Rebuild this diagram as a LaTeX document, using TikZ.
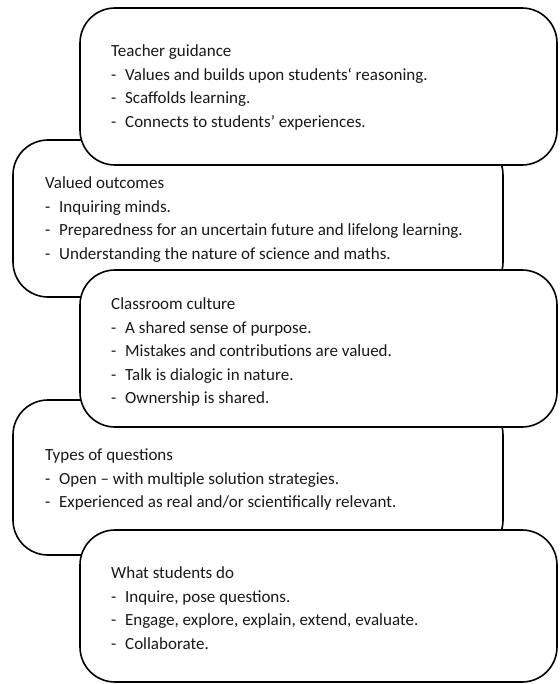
\documentclass[tikz,border=0pt]{standalone}
\usepackage{fontspec}
\setmainfont{Carlito}
\begin{document}
\begin{tikzpicture}[x=1pt,y=-1pt,
  box/.style={draw=black, line width=1.6pt, fill=white, rounded corners=35pt, inner sep=0pt},
  txt/.style={anchor=north west, inner sep=0pt, align=left, text=black!90,
    font=\fontsize{17}{23.6}\selectfont}]
\newcommand{\itm}[1]{\makebox[14pt][l]{-}#1}
\useasboundingbox (0,0) rectangle (559,684);
% boxes behind
\node[box, minimum width=490pt, minimum height=157pt] (b2) at (258,218.5) {};
\node[box, minimum width=490pt, minimum height=155pt] (b4) at (258,477.5) {};
% boxes in front
\node[box, minimum width=477pt, minimum height=157pt] (b1) at (318.5,86.5) {};
\node[box, minimum width=477pt, minimum height=157pt] (b3) at (318.5,348.5) {};
\node[box, minimum width=477pt, minimum height=152pt] (b5) at (318.5,606) {};
% texts
\node[txt] (t1) at (111,44.5) {Teacher guidance\\ \itm{Values and builds upon students‘ reasoning.}\\ \itm{Scaffolds learning.}\\ \itm{Connects to students’ experiences.}};
\node[txt] (t2) at (45,176.5) {Valued outcomes\\ \itm{Inquiring minds.}\\ \itm{Preparedness for an uncertain future and lifelong learning.}\\ \itm{Understanding the nature of science and maths.}};
\node[txt] (t3) at (111,297.5) {Classroom culture\\ \itm{A shared sense of purpose.}\\ \itm{Mistakes and contributions are valued.}\\ \itm{Talk is dialogic in nature.}\\ \itm{Ownership is shared.}};
\node[txt] (t4) at (45,448.5) {Types of questions\\ \itm{Open – with multiple solution strategies.}\\ \itm{Experienced as real and/or scientifically relevant.}};
\node[txt] (t5) at (111,566.5) {What students do\\ \itm{Inquire, pose questions.}\\ \itm{Engage, explore, explain, extend, evaluate.}\\ \itm{Collaborate.}};
\end{tikzpicture}
\end{document}
